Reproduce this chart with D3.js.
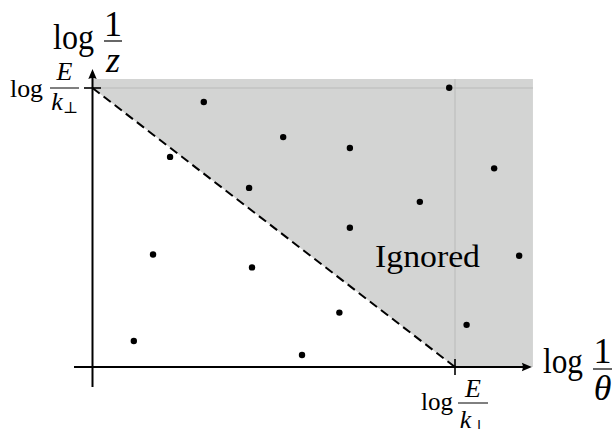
<!DOCTYPE html>
<html>
<head>
<meta charset="utf-8">
<script src="https://cdn.jsdelivr.net/npm/d3@7"></script>
<style>
  html, body { margin: 0; padding: 0; background: #fff; }
  svg { display: block; }
</style>
</head>
<body>
<svg id="chart" width="616" height="429"></svg>
<script>
// ---- data (in units of log E/k⊥) ----
const emissionLogInvTheta = [0.114, 0.167, 0.214, 0.307, 0.432, 0.440, 0.526, 0.578, 0.681, 0.710, 0.710, 0.903, 0.984, 1.032, 1.108, 1.177];
const emissionLogInvZ     = [0.093, 0.403, 0.753, 0.950, 0.642, 0.357, 0.824, 0.043, 0.195, 0.785, 0.499, 0.592, 1.001, 0.151, 0.712, 0.399];
const cutValue = 1;              // log E/k⊥ on both axes
const regionMax = [1.215, 1.032]; // extent of shaded region (x, y)
const axisExtentX = [-0.051, 1.212];
const axisExtentY = [-0.072, 1.068];
const regionLabel = "Ignored";

const FONT = "'Liberation Serif', 'Times New Roman', Times, serif";

const svg = d3.select("#chart");
const x = d3.scaleLinear().domain([0, 1]).range([92.5, 455]);
const y = d3.scaleLinear().domain([0, 1]).range([367, 88]);

// shaded region
const poly = [[0, regionMax[1]], [regionMax[0], regionMax[1]], [regionMax[0], 0], [cutValue, 0], [0, cutValue]];
svg.append("path")
  .attr("d", "M" + poly.map(p => [x(p[0]), y(p[1])].join(",")).join("L") + "Z")
  .attr("fill", "#d3d4d3");

// light guide lines
svg.append("line").attr("x1", x(0)).attr("x2", x(regionMax[0])).attr("y1", y(cutValue)).attr("y2", y(cutValue))
  .attr("stroke", "#b9bab9").attr("stroke-width", 1);
svg.append("line").attr("x1", x(cutValue)).attr("x2", x(cutValue)).attr("y1", y(regionMax[1])).attr("y2", y(0))
  .attr("stroke", "#b9bab9").attr("stroke-width", 1);

// dashed cut line
svg.append("line").attr("x1", x(0)).attr("y1", y(cutValue)).attr("x2", x(cutValue)).attr("y2", y(0))
  .attr("stroke", "#000").attr("stroke-width", 2).attr("stroke-dasharray", "9,5");

// axes
svg.append("line").attr("x1", x(axisExtentX[0])).attr("x2", x(axisExtentX[1]) - 4).attr("y1", y(0)).attr("y2", y(0))
  .attr("stroke", "#000").attr("stroke-width", 2);
svg.append("line").attr("x1", x(0)).attr("x2", x(0)).attr("y1", y(axisExtentY[0])).attr("y2", y(axisExtentY[1]) + 4)
  .attr("stroke", "#000").attr("stroke-width", 2);

function arrow(tx, ty, angle) {
  const g = svg.append("g").attr("transform", `translate(${tx},${ty}) rotate(${angle})`);
  g.append("path").attr("d", "M0,0 L-10,-4.2 Q-8,0 -10,4.2 Z").attr("fill", "#000");
}
arrow(x(axisExtentX[1]), y(0), 0);
arrow(x(0), y(axisExtentY[1]), -90);

// ticks
svg.append("line").attr("x1", x(0) - 8.5).attr("x2", x(0) + 8.5).attr("y1", y(cutValue)).attr("y2", y(cutValue))
  .attr("stroke", "#000").attr("stroke-width", 1.6);
svg.append("line").attr("x1", x(cutValue)).attr("x2", x(cutValue)).attr("y1", y(0) - 8).attr("y2", y(0) + 8)
  .attr("stroke", "#000").attr("stroke-width", 1.6);

// points
svg.append("g").selectAll("circle").data(emissionLogInvTheta.map((v, i) => [v, emissionLogInvZ[i]]))
  .join("circle").attr("cx", d => x(d[0])).attr("cy", d => y(d[1])).attr("r", 3.2).attr("fill", "#000");

// region label
svg.append("text").attr("x", 375).attr("y", 267).attr("font-size", 32).attr("font-family", FONT)
  .attr("textLength", 105).attr("lengthAdjust", "spacingAndGlyphs").text(regionLabel);

// math labels: "log" + fraction
function logFrac(o) {
  const g = svg.append("g").attr("font-family", FONT).attr("fill", "#000");
  g.append("text").attr("x", o.logX).attr("y", o.barY + o.logDy).attr("font-size", o.size)
    .attr("textLength", o.logW).attr("lengthAdjust", "spacingAndGlyphs").text("log");
  g.append("line").attr("x1", o.barX0).attr("x2", o.barX1).attr("y1", o.barY).attr("y2", o.barY)
    .attr("stroke", "#000").attr("stroke-width", o.barW);
  const cx = (o.barX0 + o.barX1) / 2;
  g.append("text").attr("x", cx).attr("y", o.barY - o.numDy).attr("font-size", o.size)
    .attr("text-anchor", "middle").attr("font-style", o.numItalic ? "italic" : "normal").text(o.num);
  const den = g.append("text").attr("x", cx + (o.denShift || 0)).attr("y", o.barY + o.denDy).attr("font-size", o.size)
    .attr("text-anchor", "middle");
  den.append("tspan").attr("font-style", "italic").text(o.den);
  if (o.sub) {
    den.append("tspan").attr("font-size", o.size * 0.62).attr("dy", o.size * 0.1)
      .attr("font-family", "'DejaVu Serif', serif").text(o.sub);
  }
}

// y-axis title: log 1/z
logFrac({ logX: 53, logW: 41, size: 36, barY: 41, logDy: 8, barX0: 104, barX1: 122, barW: 1.2,
  num: "1", numDy: 5, den: "z", denDy: 31 });
// x-axis title: log 1/θ
logFrac({ logX: 543, logW: 40, size: 36, barY: 369, logDy: 4, barX0: 593, barX1: 612, barW: 1.2,
  num: "1", numDy: 6, den: "θ", denDy: 31 });
// y tick label: log E/k⊥
logFrac({ logX: 10, logW: 33, size: 26, barY: 88, logDy: 9, barX0: 50, barX1: 79, barW: 1,
  num: "E", numDy: 8, numItalic: true, den: "k", sub: "⊥", denDy: 22, denShift: 0 });
// x tick label: log E/k⊥ (partly cut at the bottom edge, as in the reference)
logFrac({ logX: 421, logW: 32, size: 26, barY: 403, logDy: 7, barX0: 458, barX1: 488, barW: 1,
  num: "E", numDy: 6, numItalic: true, den: "k", sub: "⊥", denDy: 25, denShift: 0 });
</script>
</body>
</html>
